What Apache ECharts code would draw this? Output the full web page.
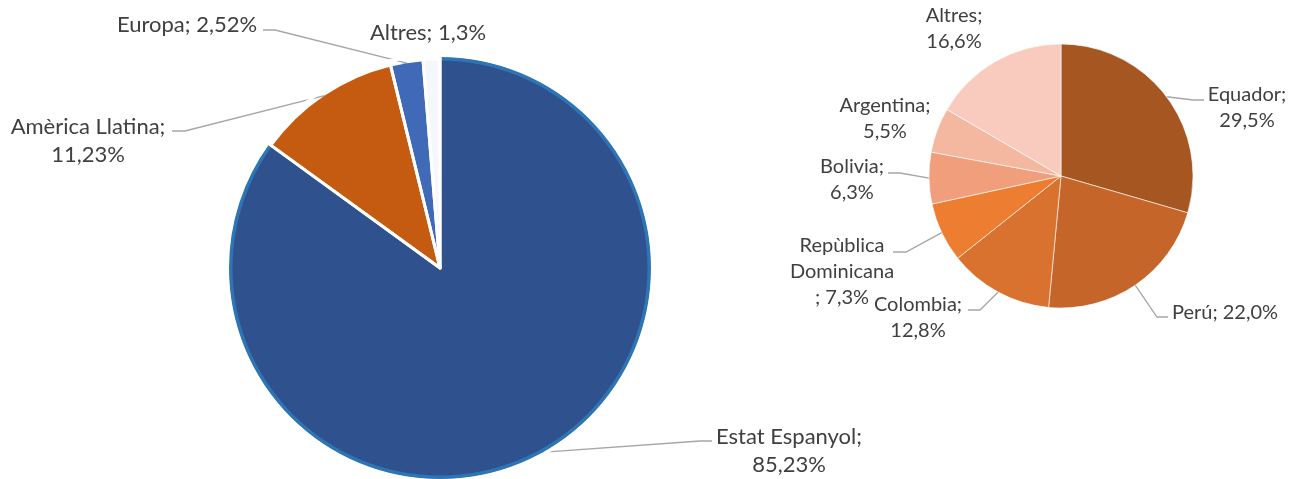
<!DOCTYPE html>
<html>
<head>
<meta charset="utf-8">
<script src="https://cdn.jsdelivr.net/npm/echarts@6/dist/echarts.min.js"></script>
<style>
  html, body { margin: 0; padding: 0; background: #fff; }
  #chart { width: 1298px; height: 479px; }
</style>
</head>
<body>
<div id="chart"></div>
<script>
// origen dels residents (esquerra) i detall d'Amèrica Llatina (dreta)
const leftNames = ['Estat Espanyol', 'Amèrica Llatina', 'Europa', 'Altres'];
const leftValues = [85.23, 11.23, 2.52, 1.3];
const rightNames = ['Equador', 'Perú', 'Colombia', 'Repùblica Dominicana', 'Bolivia', 'Argentina', 'Altres'];
const rightValues = [29.5, 22.0, 12.8, 7.3, 6.3, 5.5, 16.6];

const leftColors = ['#2f528f', '#c55a11', '#4069b7', '#f5f7fb'];
const rightColors = ['#a65620', '#c5652a', '#d9722e', '#ed7d31', '#f09e7c', '#f4b8a0', '#f8cbbe'];

// label placement (centre of text block) and leader line elbow/end
const leftLayout = [
  { x: 789, y: 451, br: '\n', line: [[700, 441], [712, 441]] },
  { x: 88, y: 141, br: '\n', line: [[185, 131], [172, 131]] },
  { x: 187, y: 25, br: ' ', line: [[275, 30], [263, 30]] },
  { x: 428, y: 33, br: ' ', line: null },
];
const rightLayout = [
  { x: 1247, y: 108, br: '\n', line: [[1193, 100], [1204, 100]] },
  { x: 1225, y: 313, br: ' ', line: [[1157, 317], [1168, 317]] },
  { x: 918, y: 318, br: '\n', line: [[980, 310], [968, 310]] },
  { x: 842, y: 272, br: '\n', wrap: true, line: [[906, 252], [893, 252]] },
  { x: 852, y: 180, br: '\n', line: [[900, 173], [888, 173]] },
  { x: 885, y: 119, br: '\n', line: null },
  { x: 954, y: 29, br: '\n', line: null },
];

const TXT = '#404040';
const LINE = '#a6a6a6';

function items(names, values, colors, layout) {
  return names.map((n, i) => ({
    name: n, value: values[i],
    itemStyle: { color: colors[i] },
    labelLine: { show: !!layout[i].line },
  }));
}

function layoutFn(layout) {
  return function (p) {
    const L = layout[p.dataIndex];
    const out = { x: L.x, y: L.y, align: 'center', verticalAlign: 'middle' };
    if (L.line && p.labelLinePoints) out.labelLinePoints = [p.labelLinePoints[0], L.line[0], L.line[1]];
    return out;
  };
}

const leftCenter = [440, 268];
const rightCenter = [1061, 176];

const chart = echarts.init(document.getElementById('chart'));
chart.setOption({
  animation: false,
  series: [
    // light blue outline on the big slice
    {
      type: 'pie', silent: true, center: leftCenter, radius: 211, startAngle: 90,
      label: { show: false }, labelLine: { show: false },
      data: leftValues.map((v, i) => ({ value: v, itemStyle: { color: i === 0 ? '#2e75b6' : 'rgba(0,0,0,0)' } })),
    },
    {
      type: 'pie', center: leftCenter, radius: 207.5, startAngle: 90, avoidLabelOverlap: false,
      itemStyle: { borderWidth: 0 },
      label: {
        color: TXT, fontFamily: 'Lato', fontSize: 22, lineHeight: 28,
        formatter: p => p.name + ';' + leftLayout[p.dataIndex].br + String(p.value).replace('.', ',') + '%',
      },
      labelLine: { lineStyle: { color: LINE, width: 1.3 } },
      labelLayout: layoutFn(leftLayout),
      data: items(leftNames, leftValues, leftColors, leftLayout),
    },
    // white gaps between slices
    {
      type: 'pie', silent: true, center: leftCenter, radius: 213, startAngle: 90,
      label: { show: false }, labelLine: { show: false },
      itemStyle: { color: 'rgba(0,0,0,0)', borderColor: '#fff', borderWidth: 3 },
      data: leftValues.map(v => ({ value: v })),
    },
    {
      type: 'pie', center: rightCenter, radius: 132, startAngle: 90, avoidLabelOverlap: false,
      itemStyle: { borderColor: '#fff', borderWidth: 0.6 },
      label: {
        color: TXT, fontFamily: 'Lato', fontSize: 20, lineHeight: 26,
        formatter: p => {
          const L = rightLayout[p.dataIndex];
          const n = L.wrap ? p.name.replace(' ', '\n') : p.name;
          return n + (L.wrap ? '\n' : '') + ';' + (L.wrap ? ' ' : L.br) + p.value.toFixed(1).replace('.', ',') + '%';
        },
      },
      labelLine: { lineStyle: { color: LINE, width: 1.3 } },
      labelLayout: layoutFn(rightLayout),
      data: items(rightNames, rightValues, rightColors, rightLayout),
    },
  ],
});
</script>
</body>
</html>
